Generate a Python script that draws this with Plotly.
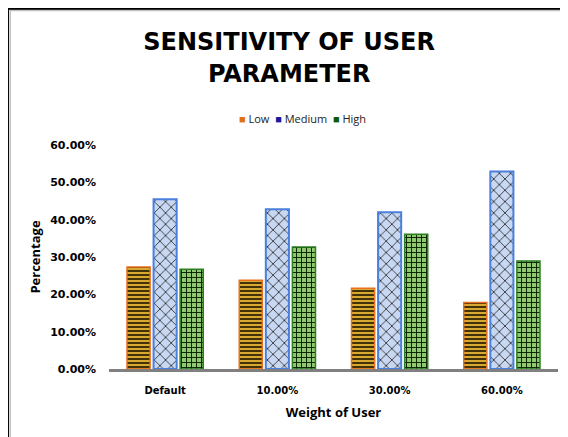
import plotly.graph_objects as go

categories = ["Default", "10.00%", "30.00%", "60.00%"]
low = [0.273, 0.238, 0.216, 0.178]
medium = [0.455, 0.428, 0.420, 0.529]
high = [0.267, 0.327, 0.361, 0.289]
y_ticks = [0, 0.1, 0.2, 0.3, 0.4, 0.5, 0.6]
y_tick_labels = ["0.00%", "10.00%", "20.00%", "30.00%", "40.00%", "50.00%", "60.00%"]

fig = go.Figure()
fig.add_trace(go.Bar(
    name="Low", x=categories, y=low, showlegend=False,
    marker=dict(color="#d09a28", line=dict(color="#e87020", width=1.5),
                pattern=dict(shape="-", fgcolor="#1a1400", bgcolor="#d8a830",
                             size=4, solidity=0.4, fillmode="replace")),
))
fig.add_trace(go.Bar(
    name="Medium", x=categories, y=medium, showlegend=False,
    marker=dict(color="#c8d8f2", line=dict(color="#4a80dc", width=2),
                pattern=dict(shape="x", fgcolor="#2a2a2a", bgcolor="#c8d8f2",
                             size=8, solidity=0.2, fillmode="replace")),
))
fig.add_trace(go.Bar(
    name="High", x=categories, y=high, showlegend=False,
    marker=dict(color="#90c870", line=dict(color="#2a8020", width=1.5),
                pattern=dict(shape="+", fgcolor="#0a2400", bgcolor="#90c870",
                             size=5, solidity=0.35, fillmode="replace")),
))

fig.update_layout(
    width=568, height=437,
    margin=dict(l=101, r=18, t=137, b=76, autoexpand=False),
    paper_bgcolor="white", plot_bgcolor="white",
    barmode="group", bargap=0.29, bargroupgap=0.13,
    font=dict(family="DejaVu Sans", color="black"),
    title=dict(text="SENSITIVITY OF USER<br>PARAMETER", x=0.495, xanchor="center",
               y=0.903, yanchor="middle",
               font=dict(family="DejaVu Sans", size=24, color="black", weight="bold")),
    xaxis=dict(showline=True, linecolor="#808080", linewidth=2.5, ticks="",
               showgrid=False, ticklabelstandoff=10, automargin=False,
               tickfont=dict(family="DejaVu Sans", size=10, weight="bold"),
               title=dict(text="Weight of User", standoff=14,
                          font=dict(family="Open Sans", size=13, weight="bold"))),
    yaxis=dict(range=[0, 0.6], tickvals=y_ticks, ticktext=y_tick_labels,
               showline=False, showgrid=False, zeroline=False, ticks="",
               ticklabelstandoff=12, automargin=False,
               tickfont=dict(family="DejaVu Sans", size=11, weight="bold"),
               title=dict(text="Percentage", standoff=6,
                          font=dict(family="Open Sans", size=13, weight="bold"))),
    shapes=[
        dict(type="rect", xref="paper", yref="paper", x0=-0.225, x1=2, y0=-1, y1=1.607,
             line=dict(color="black", width=2), fillcolor="rgba(0,0,0,0)", layer="below"),
        dict(type="rect", xref="paper", yref="paper", x0=-0.22, x1=2, y0=-1, y1=1.600,
             line=dict(color="#c0c0c0", width=1.5), fillcolor="rgba(0,0,0,0)", layer="below"),
    ],
    annotations=[
        dict(xref="paper", yref="paper", x=0.432, y=1.12, xanchor="center", yanchor="middle",
             showarrow=False,
             font=dict(family="Open Sans", size=11, color="#222"),
             text="<span style='color:#e07010'>■</span> Low  "
                  "<span style='color:#1a1aa0'>■</span> Medium  "
                  "<span style='color:#0a5a0a'>■</span> High"),
    ],
)

fig.write_html("out.html")
